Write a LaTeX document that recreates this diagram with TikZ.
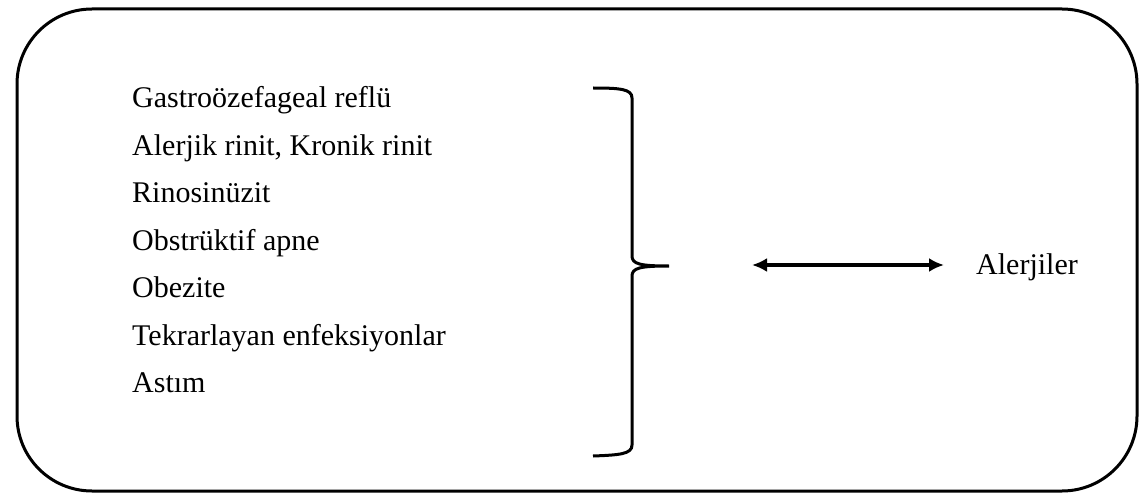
\documentclass[tikz,border=0pt]{standalone}
\usepackage{fontspec}
\setmainfont{Liberation Serif}
\usetikzlibrary{arrows.meta}
\begin{document}
\begin{tikzpicture}[x=1pt,y=-1pt,
        item/.style={anchor=base west, inner sep=0pt, font=\fontsize{30}{34}\selectfont},
        heavy/.style={line width=3pt}]
        \useasboundingbox (0,0) rectangle (1143,500);

        \draw[heavy, rounded corners=75pt] (17,9) rectangle (1137,491);

        \node[item] (gastro) at (132, 108) {Gastroözefageal reflü};
        \node[item] (rinit) at (132, 155) {Alerjik rinit, Kronik rinit};
        \node[item] (rino) at (132, 202) {Rinosinüzit};
        \node[item] (apne) at (132, 250) {Obstrüktif apne};
        \node[item] (obez) at (132, 297) {Obezite};
        \node[item] (enf) at (132, 345) {Tekrarlayan enfeksiyonlar};
        \node[item] (astim) at (132, 392) {Astım};

        \node[item, anchor=west] (alerji) at (976, 267) {Alerjiler};

        \coordinate (tip) at (669, 266);
        \coordinate (left) at (752, 265);
        \coordinate (right) at (944, 265);

        \draw[heavy] (593, 88) .. controls (620, 88) and (632, 89) .. (632, 98)
                -- (632, 256) .. controls (632, 264) and (640, 266) .. (tip)
                .. controls (640, 266) and (632, 268) .. (632, 276)
                -- (632, 445) .. controls (632, 454) and (620, 455) .. (593, 456);

        \draw[line width=3.6pt, {Latex[length=15pt,width=14pt]}-{Latex[length=15pt,width=14pt]}] (left) -- (right);
    \end{tikzpicture}
\end{document}
